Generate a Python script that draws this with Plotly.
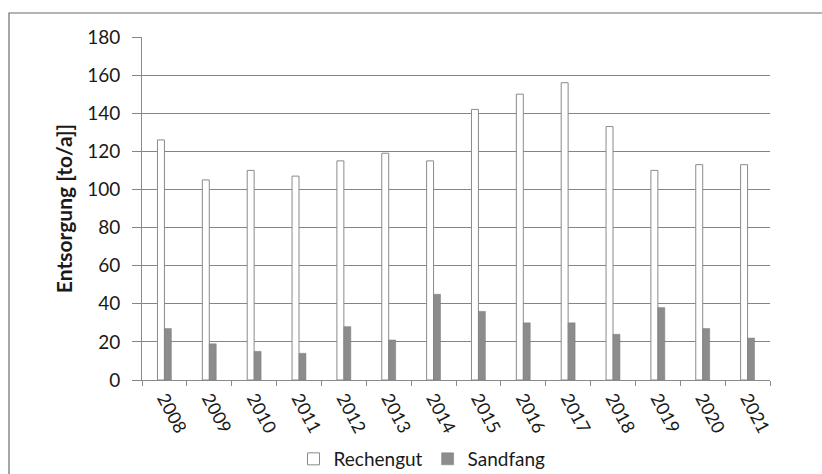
import plotly.graph_objects as go

# Jährliche Entsorgungsmengen der Kläranlage
jahre = ["2008", "2009", "2010", "2011", "2012", "2013", "2014",
         "2015", "2016", "2017", "2018", "2019", "2020", "2021"]
rechengut = [126, 105, 110, 107, 115, 119, 115, 142, 150, 156, 133, 110, 113, 113]
sandfang = [27, 19, 15, 14, 28, 21, 45, 36, 30, 30, 24, 38, 27, 22]
y_ticks = [0, 20, 40, 60, 80, 100, 120, 140, 160, 180]

W, H = 822, 474
L, R, T, B = 142, 52, 37, 94
pw, ph = W - L - R, H - T - B

FONT = "Lato, 'Open Sans', sans-serif"

fig = go.Figure()
fig.add_trace(go.Bar(
    x=jahre, y=rechengut, name="Rechengut",
    marker=dict(color="#ffffff", line=dict(color="#8a8a8a", width=1)),
))
fig.add_trace(go.Bar(
    x=jahre, y=sandfang, name="Sandfang",
    marker=dict(color="#8c8c8c", line=dict(color="#7a7a7a", width=0.5)),
))

# Rahmen um den gesamten Diagrammbereich
def px_x(p):
    return (p - L) / pw

def px_y(p):
    return (H - B - p) / ph

fig.add_shape(type="rect", xref="paper", yref="paper",
              x0=px_x(9), x1=px_x(840), y0=px_y(13), y1=px_y(500),
              line=dict(color="#6a6a6a", width=1.2), fillcolor="rgba(0,0,0,0)",
              layer="below")

fig.update_layout(
    width=W, height=H,
    margin=dict(l=L, r=R, t=T, b=B, autoexpand=False),
    paper_bgcolor="#ffffff", plot_bgcolor="#ffffff",
    barmode="group", bargap=0.69, bargroupgap=0,
    font=dict(family=FONT, color="#1a1a1a", size=19),
    showlegend=True,
    legend=dict(orientation="h", x=px_x(422), xanchor="center", y=px_y(440), yanchor="top",
                font=dict(size=19, family=FONT), traceorder="normal",
                itemwidth=30, tracegroupgap=0, borderwidth=0),
    xaxis=dict(
        type="category", range=[-0.5, 13.5], automargin=False,
        tickson="boundaries", ticks="outside", ticklen=5, tickcolor="#8a8a8a",
        showline=True, linecolor="#8a8a8a", linewidth=1,
        tickangle=62, tickfont=dict(size=18, family=FONT),
        showgrid=False,
    ),
    yaxis=dict(
        range=[0, 180], tickvals=y_ticks, automargin=False,
        showgrid=True, gridcolor="#858585", gridwidth=1,
        showline=True, linecolor="#8a8a8a", linewidth=1,
        ticks="outside", ticklen=9, tickcolor="#858585",
        ticklabelstandoff=8,
        tickfont=dict(size=19, family=FONT),
        zeroline=False,
        title=dict(text="<b>Entsorgung [to/a]]</b>", font=dict(size=21, family=FONT),
                   standoff=8),
    ),
)

fig.write_html("out.html")
